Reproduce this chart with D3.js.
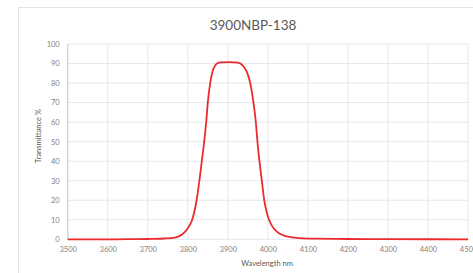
<!DOCTYPE html>
<html><head><meta charset="utf-8">
<script src="https://cdn.jsdelivr.net/npm/d3@7"></script>
<style>html,body{margin:0;padding:0;background:#fff;}svg{display:block;}</style>
</head><body>
<svg id="c" width="473" height="273"></svg>
<script>
const title = "3900NBP-138";
const xLabel = "Wavelength nm";
const yLabel = "Transmittance %";
const xTicks = [3500,3600,3700,3800,3900,4000,4100,4200,4300,4400,4500];
const yTicks = [0,10,20,30,40,50,60,70,80,90,100];
const wavelength = [3500,3600,3650,3700,3740,3768,3785,3800,3811,3822,3829,3835,3841,3846,3850,3856,3862,3868,3874,3882,3905,3925,3934,3941,3947,3956,3964,3970,3974,3979,3985,3991,3997,4003,4010,4018,4027,4040,4060,4080,4120,4200,4300,4500];
const transmittance = [0,0,0.05,0.15,0.4,0.9,2.3,5.7,10,20,30,40,50,60,70,80,86,88.9,90.1,90.6,90.7,90.5,89.6,88,86,80,70,60,50,40,30,20,14,10,7,4.8,3.2,1.9,1.0,0.6,0.3,0.15,0.05,0];

const svg = d3.select("#c");
const L = 67.7, R = 468, T = 44, B = 239.3;
const x = d3.scaleLinear().domain([3500,4500]).range([L,R]);
const y = d3.scaleLinear().domain([0,100]).range([B,T]);

svg.append("rect").attr("x",18.5).attr("y",7.5).attr("width",520).attr("height",300)
  .attr("fill","#fff").attr("stroke","#e3e3e3").attr("stroke-width",1);

svg.append("text").attr("x",253).attr("y",29.5).attr("text-anchor","middle")
  .attr("font-family","Lato, 'Open Sans', sans-serif").attr("font-size",13.5).attr("fill","#595959").text(title);

const grid = svg.append("g");
grid.selectAll("line.v").data(xTicks).join("line").attr("class","v")
  .attr("x1",d=>x(d)).attr("x2",d=>x(d)).attr("y1",T).attr("y2",B)
  .attr("stroke","#e4e8ee").attr("stroke-width",1);
grid.selectAll("line.h").data(yTicks).join("line").attr("class","h")
  .attr("x1",L).attr("x2",R).attr("y1",d=>y(d)).attr("y2",d=>y(d))
  .attr("stroke","#e4e8ee").attr("stroke-width",1);
svg.append("line").attr("x1",L).attr("x2",L).attr("y1",T).attr("y2",B)
  .attr("stroke","#cdd3dd").attr("stroke-width",1.2);

const yAxis = d3.axisLeft(y).tickValues(yTicks).tickSize(0).tickPadding(8);
const gy = svg.append("g").attr("transform",`translate(${L},0)`).call(yAxis);
gy.select(".domain").remove();
gy.selectAll("text").attr("font-family","Lato, 'Open Sans', sans-serif").attr("font-size",7.5).attr("fill","#7f7f7f");

const xAxis = d3.axisBottom(x).tickValues(xTicks).tickSize(0).tickPadding(7).tickFormat(d3.format("d"));
const gx = svg.append("g").attr("transform",`translate(0,${B})`).call(xAxis);
gx.select(".domain").remove();
gx.selectAll("text").attr("font-family","Lato, 'Open Sans', sans-serif").attr("font-size",7.5).attr("fill","#7f7f7f");

svg.append("text").attr("x",267).attr("y",266).attr("text-anchor","middle")
  .attr("font-family","Lato, 'Open Sans', sans-serif").attr("font-size",7.5).attr("fill","#595959").text(xLabel);
svg.append("text").attr("transform","translate(40.5,136) rotate(-90)").attr("text-anchor","middle")
  .attr("font-family","Lato, 'Open Sans', sans-serif").attr("font-size",7.5).attr("fill","#595959").text(yLabel);

const data = wavelength.map((w,i)=>[w,transmittance[i]]);
svg.append("path").datum(data)
  .attr("d", d3.line().x(d=>x(d[0])).y(d=>y(d[1])).curve(d3.curveMonotoneX))
  .attr("fill","none").attr("stroke","#ec2b2f").attr("stroke-width",1.8);
</script>
</body></html>
